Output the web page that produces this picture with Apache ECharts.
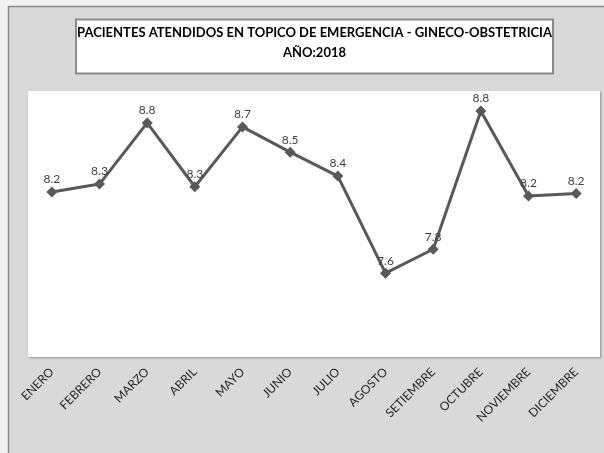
<!DOCTYPE html>
<html><head><meta charset="utf-8">
<script src="https://cdn.jsdelivr.net/npm/echarts@6/dist/echarts.min.js"></script>
<style>html,body{margin:0;padding:0;background:#f2f2f2}#c{width:604px;height:453px}</style>
</head><body><div id="c"></div>
<script>
const categories = ['ENERO','FEBRERO','MARZO','ABRIL','MAYO','JUNIO','JULIO','AGOSTO','SETIEMBRE','OCTUBRE','NOVIEMBRE','DICIEMBRE'];
const values = [8.24, 8.30, 8.76, 8.28, 8.73, 8.54, 8.36, 7.63, 7.81, 8.85, 8.21, 8.23];
const titleLines = ['PACIENTES ATENDIDOS EN TOPICO DE EMERGENCIA - GINECO-OBSTETRICIA', 'AÑO:2018'];

const FONT = 'Lato, "Open Sans", sans-serif';
const chart = echarts.init(document.getElementById('c'), null, {renderer: 'canvas'});
chart.setOption({
  backgroundColor: '#d9d9d9',
  animation: false,
  grid: {
    left: 28, right: 4, top: 91, bottom: 96,
    show: true, backgroundColor: '#ffffff', borderWidth: 0,
    shadowColor: 'rgba(0,0,0,0.35)', shadowBlur: 2, shadowOffsetX: 1, shadowOffsetY: 1
  },
  xAxis: {
    type: 'category', data: categories, boundaryGap: true,
    axisLine: {show: false}, axisTick: {show: false},
    axisLabel: {rotate: 45, margin: 13, interval: 0, color: '#262626', fontSize: 12, fontFamily: FONT}
  },
  yAxis: {type: 'value', min: 7, max: 9, show: false, splitLine: {show: false}},
  series: [{
    type: 'line', data: values,
    symbol: 'diamond', symbolSize: 11,
    lineStyle: {color: '#595959', width: 3},
    itemStyle: {color: '#595959'},
    label: {show: true, position: 'top', distance: 1, color: '#404040', fontSize: 12, fontFamily: FONT,
      formatter: p => p.value.toFixed(1)}
  }],
  graphic: [
    {type: 'rect', shape: {x: 0, y: 0, width: 604, height: 6}, style: {fill: '#f2f2f2'}, silent: true},
    {type: 'rect', shape: {x: 0, y: 0, width: 8, height: 453}, style: {fill: '#f2f2f2'}, silent: true},
    {type: 'polyline', shape: {points: [[8.5, 453], [8.5, 6.5], [604, 6.5]]}, style: {stroke: '#8c8c8c', lineWidth: 1.5, fill: null}, silent: true},
    {type: 'rect', shape: {x: 76, y: 19.5, width: 477, height: 54}, style: {fill: '#ffffff', stroke: '#8a8a8a', lineWidth: 2}, silent: true},
    {type: 'text', x: 314.5, y: 33, style: {text: titleLines[0], fill: '#000', font: 'bold 13px ' + FONT, textAlign: 'center', textVerticalAlign: 'middle'}, silent: true},
    {type: 'text', x: 314.5, y: 53, style: {text: titleLines[1], fill: '#000', font: 'bold 13px ' + FONT, textAlign: 'center', textVerticalAlign: 'middle'}, silent: true}
  ]
});
</script></body></html>
